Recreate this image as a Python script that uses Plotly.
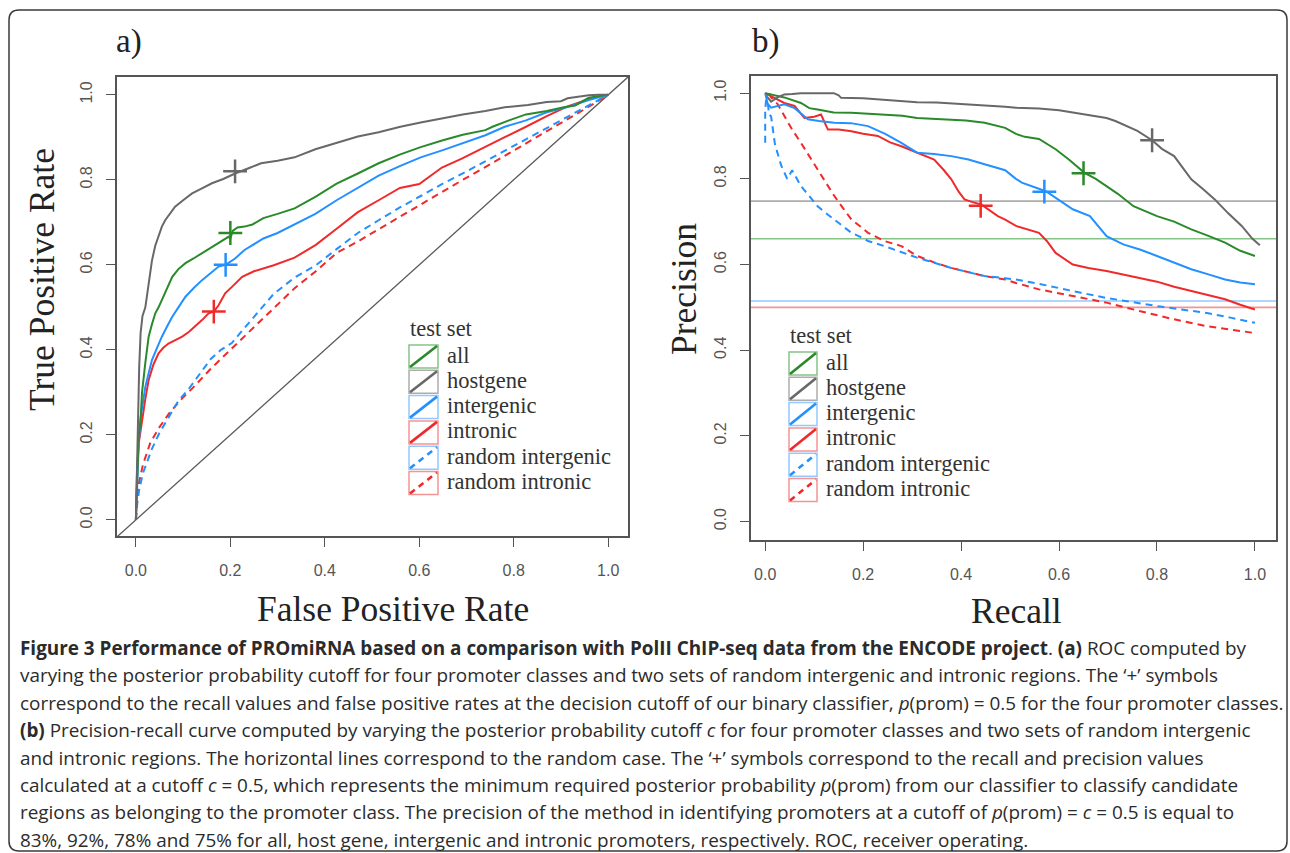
import plotly.graph_objects as go

W, H = 1290, 853

# ---------------- data ----------------
series = ["all", "hostgene", "intergenic", "intronic", "random intergenic", "random intronic"]
colors = {"all": "#2A8A2A", "hostgene": "#686868", "intergenic": "#2490FF", "intronic": "#F02A2A",
          "random intergenic": "#2490FF", "random intronic": "#F02A2A"}
light = {"all": "#86C386", "hostgene": "#ADADAD", "intergenic": "#93C9FF", "intronic": "#F59494",
         "random intergenic": "#93C9FF", "random intronic": "#F59494"}
dashed = {"all": False, "hostgene": False, "intergenic": False, "intronic": False,
          "random intergenic": True, "random intronic": True}

# ROC (panel a): false positive rate / true positive rate
roc_fpr_all = [0, 0.003, 0.006, 0.010, 0.013, 0.020, 0.027, 0.034, 0.041, 0.048, 0.055, 0.066, 0.077, 0.090, 0.105,
               0.122, 0.140, 0.158, 0.175, 0.190, 0.196, 0.200, 0.205, 0.215, 0.230, 0.247, 0.270, 0.300, 0.336, 0.380,
               0.425, 0.470, 0.514, 0.560, 0.603, 0.650, 0.692, 0.740, 0.755, 0.790, 0.826, 0.870, 0.906, 0.930, 0.959,
               0.980, 1.0]
roc_tpr_all = [0, 0.12, 0.20, 0.235, 0.30, 0.37, 0.431, 0.46, 0.486, 0.50, 0.517, 0.545, 0.572, 0.59, 0.604,
               0.615, 0.627, 0.64, 0.65, 0.66, 0.666, 0.662, 0.68, 0.688, 0.69, 0.695, 0.71, 0.72, 0.733, 0.76,
               0.791, 0.815, 0.839, 0.86, 0.877, 0.893, 0.906, 0.917, 0.925, 0.94, 0.954, 0.962, 0.971, 0.975, 0.993,
               0.997, 1.0]
roc_fpr_host = [0, 0.002, 0.004, 0.007, 0.010, 0.014, 0.020, 0.027, 0.034, 0.041, 0.048, 0.055, 0.062, 0.072, 0.083,
                0.100, 0.119, 0.140, 0.161, 0.185, 0.210, 0.240, 0.265, 0.300, 0.336, 0.380, 0.425, 0.470, 0.514,
                0.560, 0.603, 0.650, 0.692, 0.740, 0.781, 0.830, 0.870, 0.900, 0.914, 0.940, 0.959, 0.980, 1.0]
roc_tpr_host = [0, 0.12, 0.25, 0.36, 0.44, 0.48, 0.50, 0.55, 0.61, 0.645, 0.666, 0.69, 0.705, 0.72, 0.737,
                0.752, 0.768, 0.78, 0.792, 0.802, 0.815, 0.828, 0.839, 0.845, 0.853, 0.872, 0.887, 0.902, 0.912,
                0.925, 0.935, 0.945, 0.954, 0.962, 0.971, 0.976, 0.983, 0.985, 0.992, 0.996, 0.999, 1.0, 1.0]
roc_fpr_inter = [0, 0.003, 0.006, 0.010, 0.015, 0.020, 0.027, 0.034, 0.045, 0.055, 0.066, 0.077, 0.090, 0.105, 0.122,
                 0.140, 0.158, 0.175, 0.190, 0.210, 0.230, 0.247, 0.270, 0.300, 0.336, 0.380, 0.425, 0.470, 0.514,
                 0.560, 0.603, 0.650, 0.692, 0.740, 0.781, 0.826, 0.870, 0.910, 0.959, 0.980, 1.0]
roc_tpr_inter = [0, 0.10, 0.18, 0.24, 0.28, 0.313, 0.345, 0.376, 0.405, 0.431, 0.455, 0.478, 0.50, 0.525, 0.545,
                 0.564, 0.58, 0.596, 0.60, 0.615, 0.635, 0.647, 0.662, 0.675, 0.695, 0.72, 0.752, 0.782, 0.81,
                 0.833, 0.853, 0.87, 0.887, 0.905, 0.925, 0.94, 0.959, 0.97, 0.988, 0.995, 1.0]
roc_fpr_intr = [0, 0.0025, 0.006, 0.013, 0.020, 0.027, 0.037, 0.048, 0.058, 0.069, 0.083, 0.098, 0.112, 0.126, 0.140,
                0.154, 0.165, 0.175, 0.189, 0.205, 0.225, 0.250, 0.292, 0.336, 0.381, 0.425, 0.470, 0.514, 0.559,
                0.600, 0.648, 0.690, 0.737, 0.780, 0.826, 0.870, 0.914, 0.959, 0.980, 1.0]
roc_tpr_intr = [0, 0.118, 0.18, 0.235, 0.285, 0.329, 0.365, 0.392, 0.405, 0.415, 0.422, 0.431, 0.442, 0.455, 0.47,
                0.486, 0.49, 0.505, 0.533, 0.55, 0.572, 0.585, 0.599, 0.617, 0.647, 0.685, 0.724, 0.752, 0.781,
                0.79, 0.829, 0.85, 0.877, 0.9, 0.925, 0.95, 0.973, 0.99, 0.996, 1.0]
roc_fpr_rinter = [0, 0.003, 0.007, 0.015, 0.025, 0.034, 0.050, 0.070, 0.090, 0.114, 0.136, 0.158, 0.180, 0.203,
                  0.225, 0.247, 0.270, 0.292, 0.336, 0.381, 0.425, 0.470, 0.514, 0.559, 0.603, 0.648, 0.692, 0.737,
                  0.781, 0.826, 0.870, 0.914, 0.959, 1.0]
roc_tpr_rinter = [0, 0.04, 0.071, 0.11, 0.14, 0.167, 0.205, 0.244, 0.28, 0.311, 0.345, 0.378, 0.40, 0.416,
                  0.445, 0.474, 0.505, 0.532, 0.57, 0.599, 0.637, 0.675, 0.705, 0.735, 0.762, 0.79, 0.815, 0.842,
                  0.868, 0.895, 0.922, 0.948, 0.975, 1.0]
roc_fpr_rintr = [0, 0.003, 0.007, 0.015, 0.030, 0.048, 0.070, 0.093, 0.120, 0.158, 0.200, 0.247, 0.292, 0.336,
                 0.381, 0.425, 0.470, 0.514, 0.559, 0.603, 0.648, 0.692, 0.737, 0.781, 0.826, 0.870, 0.914, 0.959, 1.0]
roc_tpr_rintr = [0, 0.05, 0.09, 0.13, 0.18, 0.215, 0.25, 0.28, 0.31, 0.355, 0.40, 0.45, 0.50, 0.545,
                 0.585, 0.628, 0.655, 0.684, 0.712, 0.741, 0.771, 0.80, 0.828, 0.857, 0.886, 0.915, 0.943, 0.972, 1.0]

# Precision-recall (panel b)
pr_rec_all = [0.0, 0.02, 0.039, 0.073, 0.09, 0.107, 0.14, 0.176, 0.21, 0.243, 0.28, 0.31, 0.345, 0.38, 0.41, 0.448,
              0.47, 0.49, 0.512, 0.53, 0.559, 0.593, 0.62, 0.652, 0.675, 0.697, 0.72, 0.752, 0.8, 0.835, 0.87, 0.905,
              0.939, 0.97, 1.0]
pr_prec_all = [1.0, 0.995, 0.99, 0.977, 0.965, 0.962, 0.955, 0.954, 0.952, 0.95, 0.947, 0.942, 0.94, 0.939, 0.936,
               0.931, 0.925, 0.919, 0.905, 0.898, 0.893, 0.869, 0.845, 0.814, 0.80, 0.783, 0.765, 0.736, 0.713, 0.70,
               0.682, 0.667, 0.651, 0.632, 0.62]
pr_rec_host = [0.005, 0.012, 0.025, 0.039, 0.055, 0.073, 0.10, 0.14, 0.150, 0.155, 0.20, 0.243, 0.28, 0.31, 0.35,
               0.38, 0.42, 0.448, 0.49, 0.512, 0.559, 0.60, 0.628, 0.66, 0.697, 0.715, 0.731, 0.76, 0.79, 0.81, 0.835,
               0.85, 0.87, 0.895, 0.918, 0.945, 0.973, 0.995, 1.01]
pr_prec_host = [0.99, 0.98, 0.99, 0.997, 0.998, 1.0, 1.0, 1.0, 0.995, 0.989, 0.988, 0.985, 0.982, 0.979, 0.978,
                0.976, 0.974, 0.971, 0.968, 0.966, 0.964, 0.96, 0.955, 0.95, 0.942, 0.935, 0.927, 0.912, 0.89, 0.87,
                0.853, 0.83, 0.799, 0.775, 0.752, 0.72, 0.69, 0.66, 0.645]
pr_rec_inter = [0.0, 0.005, 0.012, 0.025, 0.039, 0.06, 0.087, 0.11, 0.141, 0.175, 0.21, 0.245, 0.278, 0.31, 0.345,
                0.38, 0.415, 0.448, 0.49, 0.512, 0.524, 0.573, 0.60, 0.628, 0.663, 0.697, 0.731, 0.765, 0.8, 0.835,
                0.87, 0.905, 0.939, 0.97, 1.0]
pr_prec_inter = [1.0, 0.975, 0.966, 0.97, 0.974, 0.965, 0.939, 0.935, 0.931, 0.93, 0.923, 0.905, 0.884, 0.861,
                 0.858, 0.853, 0.845, 0.834, 0.82, 0.80, 0.791, 0.771, 0.75, 0.729, 0.713, 0.666, 0.647, 0.635, 0.62,
                 0.605, 0.589, 0.577, 0.565, 0.558, 0.554]
pr_rec_intr = [0.0, 0.012, 0.025, 0.039, 0.06, 0.08, 0.10, 0.114, 0.128, 0.15, 0.176, 0.20, 0.23, 0.255, 0.278, 0.31,
               0.345, 0.365, 0.38, 0.395, 0.407, 0.425, 0.441, 0.475, 0.49, 0.512, 0.559, 0.575, 0.593, 0.628, 0.66,
               0.697, 0.73, 0.766, 0.8, 0.835, 0.87, 0.905, 0.939, 0.97, 1.0]
pr_prec_intr = [1.0, 0.993, 0.985, 0.977, 0.97, 0.942, 0.945, 0.95, 0.915, 0.915, 0.911, 0.905, 0.9, 0.885, 0.876,
                0.861, 0.845, 0.82, 0.799, 0.77, 0.752, 0.745, 0.74, 0.713, 0.705, 0.69, 0.674, 0.655, 0.627, 0.60,
                0.592, 0.585, 0.577, 0.569, 0.56, 0.548, 0.538, 0.528, 0.519, 0.506, 0.495]
pr_rec_rinter = [0.0, 0.0, 0.003, 0.008, 0.012, 0.02, 0.033, 0.045, 0.055, 0.073, 0.09, 0.107, 0.124, 0.141, 0.16,
                 0.176, 0.193, 0.21, 0.243, 0.278, 0.31, 0.345, 0.38, 0.415, 0.448, 0.49, 0.512, 0.559, 0.593, 0.645,
                 0.697, 0.75, 0.8, 0.85, 0.902, 0.95, 1.0]
pr_prec_rinter = [0.884, 0.96, 1.0, 0.95, 0.946, 0.88, 0.83, 0.80, 0.82, 0.783, 0.76, 0.736, 0.72, 0.705, 0.69,
                  0.674, 0.665, 0.655, 0.643, 0.628, 0.616, 0.604, 0.592, 0.582, 0.573, 0.568, 0.565, 0.555, 0.546,
                  0.534, 0.522, 0.512, 0.503, 0.495, 0.487, 0.476, 0.464]
pr_rec_rintr = [0.008, 0.012, 0.025, 0.039, 0.055, 0.073, 0.09, 0.107, 0.124, 0.141, 0.16, 0.176, 0.193, 0.21, 0.243,
                0.278, 0.31, 0.345, 0.38, 0.415, 0.448, 0.49, 0.512, 0.559, 0.628, 0.697, 0.766, 0.835, 0.902, 0.95,
                1.0]
pr_prec_rintr = [1.0, 0.99, 0.975, 0.946, 0.915, 0.884, 0.853, 0.822, 0.79, 0.76, 0.73, 0.705, 0.69, 0.674, 0.655,
                 0.643, 0.62, 0.605, 0.592, 0.582, 0.573, 0.565, 0.557, 0.542, 0.526, 0.511, 0.491, 0.472, 0.456,
                 0.448, 0.44]

# '+' markers at cutoff 0.5 (all, hostgene, intergenic, intronic)
plus_classes = ["all", "hostgene", "intergenic", "intronic"]
roc_plus_fpr = [0.20, 0.21, 0.19, 0.165]
roc_plus_tpr = [0.675, 0.82, 0.60, 0.49]
pr_plus_rec = [0.65, 0.79, 0.57, 0.44]
pr_plus_prec = [0.813, 0.89, 0.77, 0.737]

# random-case precision baselines (panel b)
baseline_classes = ["hostgene", "all", "intergenic", "intronic"]
baseline_prec = [0.748, 0.66, 0.515, 0.50]

tick_vals = [0, 0.2, 0.4, 0.6, 0.8, 1.0]
tick_text = ["0.0", "0.2", "0.4", "0.6", "0.8", "1.0"]

roc = {"all": (roc_fpr_all, roc_tpr_all), "hostgene": (roc_fpr_host, roc_tpr_host),
       "intergenic": (roc_fpr_inter, roc_tpr_inter), "intronic": (roc_fpr_intr, roc_tpr_intr),
       "random intergenic": (roc_fpr_rinter, roc_tpr_rinter), "random intronic": (roc_fpr_rintr, roc_tpr_rintr)}
pr = {"all": (pr_rec_all, pr_prec_all), "hostgene": (pr_rec_host, pr_prec_host),
      "intergenic": (pr_rec_inter, pr_prec_inter), "intronic": (pr_rec_intr, pr_prec_intr),
      "random intergenic": (pr_rec_rinter, pr_prec_rinter), "random intronic": (pr_rec_rintr, pr_prec_rintr)}

# ---------------- helpers ----------------
def px(x):
    return x / W


def py(y):
    return 1 - y / H


SERIF = "Liberation Serif, Times New Roman, serif"
SANS = "Liberation Sans, Arial, sans-serif"
CAP = "Open Sans, Noto Sans, sans-serif"
AXC = "#555555"

fig = go.Figure()

# diagonal reference in ROC
xa_range = [-0.04, 1.042]
ya_range = [-0.038, 1.042]
fig.add_trace(go.Scatter(x=[-0.05, 1.05], y=[-0.05, 1.05], mode="lines", line=dict(color="#5a5a5a", width=1.3),
                         xaxis="x", yaxis="y", showlegend=False, hoverinfo="skip"))

draw_order = ["random intronic", "random intergenic", "intronic", "intergenic", "all", "hostgene"]
for s in draw_order:
    xs, ys = roc[s]
    fig.add_trace(go.Scatter(x=xs, y=ys, mode="lines", name=s, xaxis="x", yaxis="y", showlegend=False,
                             line=dict(color=colors[s], width=2, dash="7px,5px" if dashed[s] else "solid")))
for s in draw_order:
    xs, ys = pr[s]
    fig.add_trace(go.Scatter(x=xs, y=ys, mode="lines", name=s, xaxis="x2", yaxis="y2", showlegend=False,
                             line=dict(color=colors[s], width=2, dash="7px,5px" if dashed[s] else "solid")))

for i, c in enumerate(plus_classes):
    fig.add_trace(go.Scatter(x=[roc_plus_fpr[i]], y=[roc_plus_tpr[i]], mode="markers", xaxis="x", yaxis="y",
                             showlegend=False,
                             marker=dict(symbol="cross-thin", size=17, line=dict(color=colors[c], width=2.5))))
    fig.add_trace(go.Scatter(x=[pr_plus_rec[i]], y=[pr_plus_prec[i]], mode="markers", xaxis="x2", yaxis="y2",
                             showlegend=False,
                             marker=dict(symbol="cross-thin", size=17, line=dict(color=colors[c], width=2.5))))

shapes = []
for c, v in zip(baseline_classes, baseline_prec):
    shapes.append(dict(type="line", xref="x2 domain", yref="y2", x0=0, x1=1, y0=v, y1=v, layer="below",
                       line=dict(color=light[c], width=1.6)))

# outer rounded frame
x0, y0, x1, y1, r = px(9), py(10), px(1287), py(851), 10
rx, ry = r / W, r / H
path = (f"M {x0+rx},{y0} L {x1-rx},{y0} Q {x1},{y0} {x1},{y0-ry} L {x1},{y1+ry} Q {x1},{y1} {x1-rx},{y1} "
        f"L {x0+rx},{y1} Q {x0},{y1} {x0},{y1+ry} L {x0},{y0-ry} Q {x0},{y0} {x0+rx},{y0} Z")
shapes.append(dict(type="path", xref="paper", yref="paper", path=path, line=dict(color="#3a3a3a", width=1.5)))

annotations = []
LEG_SIZE = 22.5

# manual legends
def legend(bx0, bx1, top, pitch, tx, title_y):
    annotations.append(dict(x=px(bx0 - 1), y=py(title_y), xref="paper", yref="paper", text="test set",
                            showarrow=False, xanchor="left", yanchor="middle",
                            font=dict(family=SERIF, size=LEG_SIZE, color="#333333")))
    for i, s in enumerate(series):
        t = top + pitch * i
        b = t + 23
        shapes.append(dict(type="rect", xref="paper", yref="paper", x0=px(bx0), x1=px(bx1), y0=py(b), y1=py(t),
                           line=dict(color=light[s], width=1.5)))
        shapes.append(dict(type="line", xref="paper", yref="paper", x0=px(bx0 + 1), y0=py(b - 1),
                           x1=px(bx1 - 1), y1=py(t + 1),
                           line=dict(color=colors[s], width=2.6, dash="6px,5px" if dashed[s] else "solid")))
        annotations.append(dict(x=px(tx), y=py(t + 10), xref="paper", yref="paper", text=s, showarrow=False,
                                xanchor="left", yanchor="middle",
                                font=dict(family=SERIF, size=LEG_SIZE, color="#333333")))


legend(409, 438, 345, 25.3, 445, 328.5)
legend(789, 817, 352, 25.3, 824, 335.5)

# panel labels and axis titles
def txt(x, y, t, size, angle=0, family=SERIF, color="#222222", anchor="center"):
    annotations.append(dict(x=px(x), y=py(y), xref="paper", yref="paper", text=t, showarrow=False,
                            xanchor=anchor, yanchor="middle", textangle=angle,
                            font=dict(family=family, size=size, color=color)))


txt(129, 42, "a)", 33)
txt(766, 42, "b)", 33)
txt(393, 609, "False Positive Rate", 35.5)
txt(1016, 611, "Recall", 35.5)
txt(42, 280, "True Positive Rate", 35.5, angle=-90)
txt(684, 289, "Precision", 35.5, angle=-90)

# caption
cap_lines = [
    "<b>Figure 3 Performance of PROmiRNA based on a comparison with PolII ChIP-seq data from the ENCODE project</b>. "
    "<b>(a)</b> ROC computed by",
    "varying the posterior probability cutoff for four promoter classes and two sets of random intergenic and "
    "intronic regions. The \u2018+\u2019 symbols",
    "correspond to the recall values and false positive rates at the decision cutoff of our binary classifier, "
    "<i>p</i>(prom) = 0.5 for the four promoter classes.",
    "<b>(b)</b> Precision-recall curve computed by varying the posterior probability cutoff <i>c</i> for four "
    "promoter classes and two sets of random intergenic",
    "and intronic regions. The horizontal lines correspond to the random case. The \u2018+\u2019 symbols correspond "
    "to the recall and precision values",
    "calculated at a cutoff <i>c</i> = 0.5, which represents the minimum required posterior probability "
    "<i>p</i>(prom) from our classifier to classify candidate",
    "regions as belonging to the promoter class. The precision of the method in identifying promoters at a cutoff "
    "of <i>p</i>(prom) = <i>c</i> = 0.5 is equal to",
    "83%, 92%, 78% and 75% for all, host gene, intergenic and intronic promoters, respectively. ROC, receiver "
    "operating.",
]
for i, line in enumerate(cap_lines):
    txt(18, 648 + 27.4 * i, line, 18.9, family=CAP, color="#2b2b2b", anchor="left")

axis_common = dict(tickvals=tick_vals, ticktext=tick_text, ticks="outside", ticklen=9, tickwidth=1.3,
                   tickcolor=AXC, showline=True, mirror=True, linecolor=AXC, linewidth=1.6, showgrid=False,
                   zeroline=False, tickfont=dict(family=SANS, size=16, color=AXC))

fig.update_layout(
    width=W, height=H, margin=dict(l=0, r=0, t=0, b=0), paper_bgcolor="white", plot_bgcolor="white",
    showlegend=False,
    xaxis=dict(domain=[px(117), px(628)], range=xa_range, anchor="y", ticklabelstandoff=10, **axis_common),
    yaxis=dict(domain=[py(536), py(77)], range=ya_range, anchor="x", tickangle=-90, ticklabelstandoff=8,
               **axis_common),
    xaxis2=dict(domain=[px(751), px(1276)], range=[-0.029, 1.043], anchor="y2", ticklabelstandoff=10,
                **axis_common),
    yaxis2=dict(domain=[py(540), py(76)], range=[-0.043, 1.04], anchor="x2", tickangle=-90, ticklabelstandoff=8,
                **axis_common),
    shapes=shapes, annotations=annotations,
)

fig.write_html("out.html")
